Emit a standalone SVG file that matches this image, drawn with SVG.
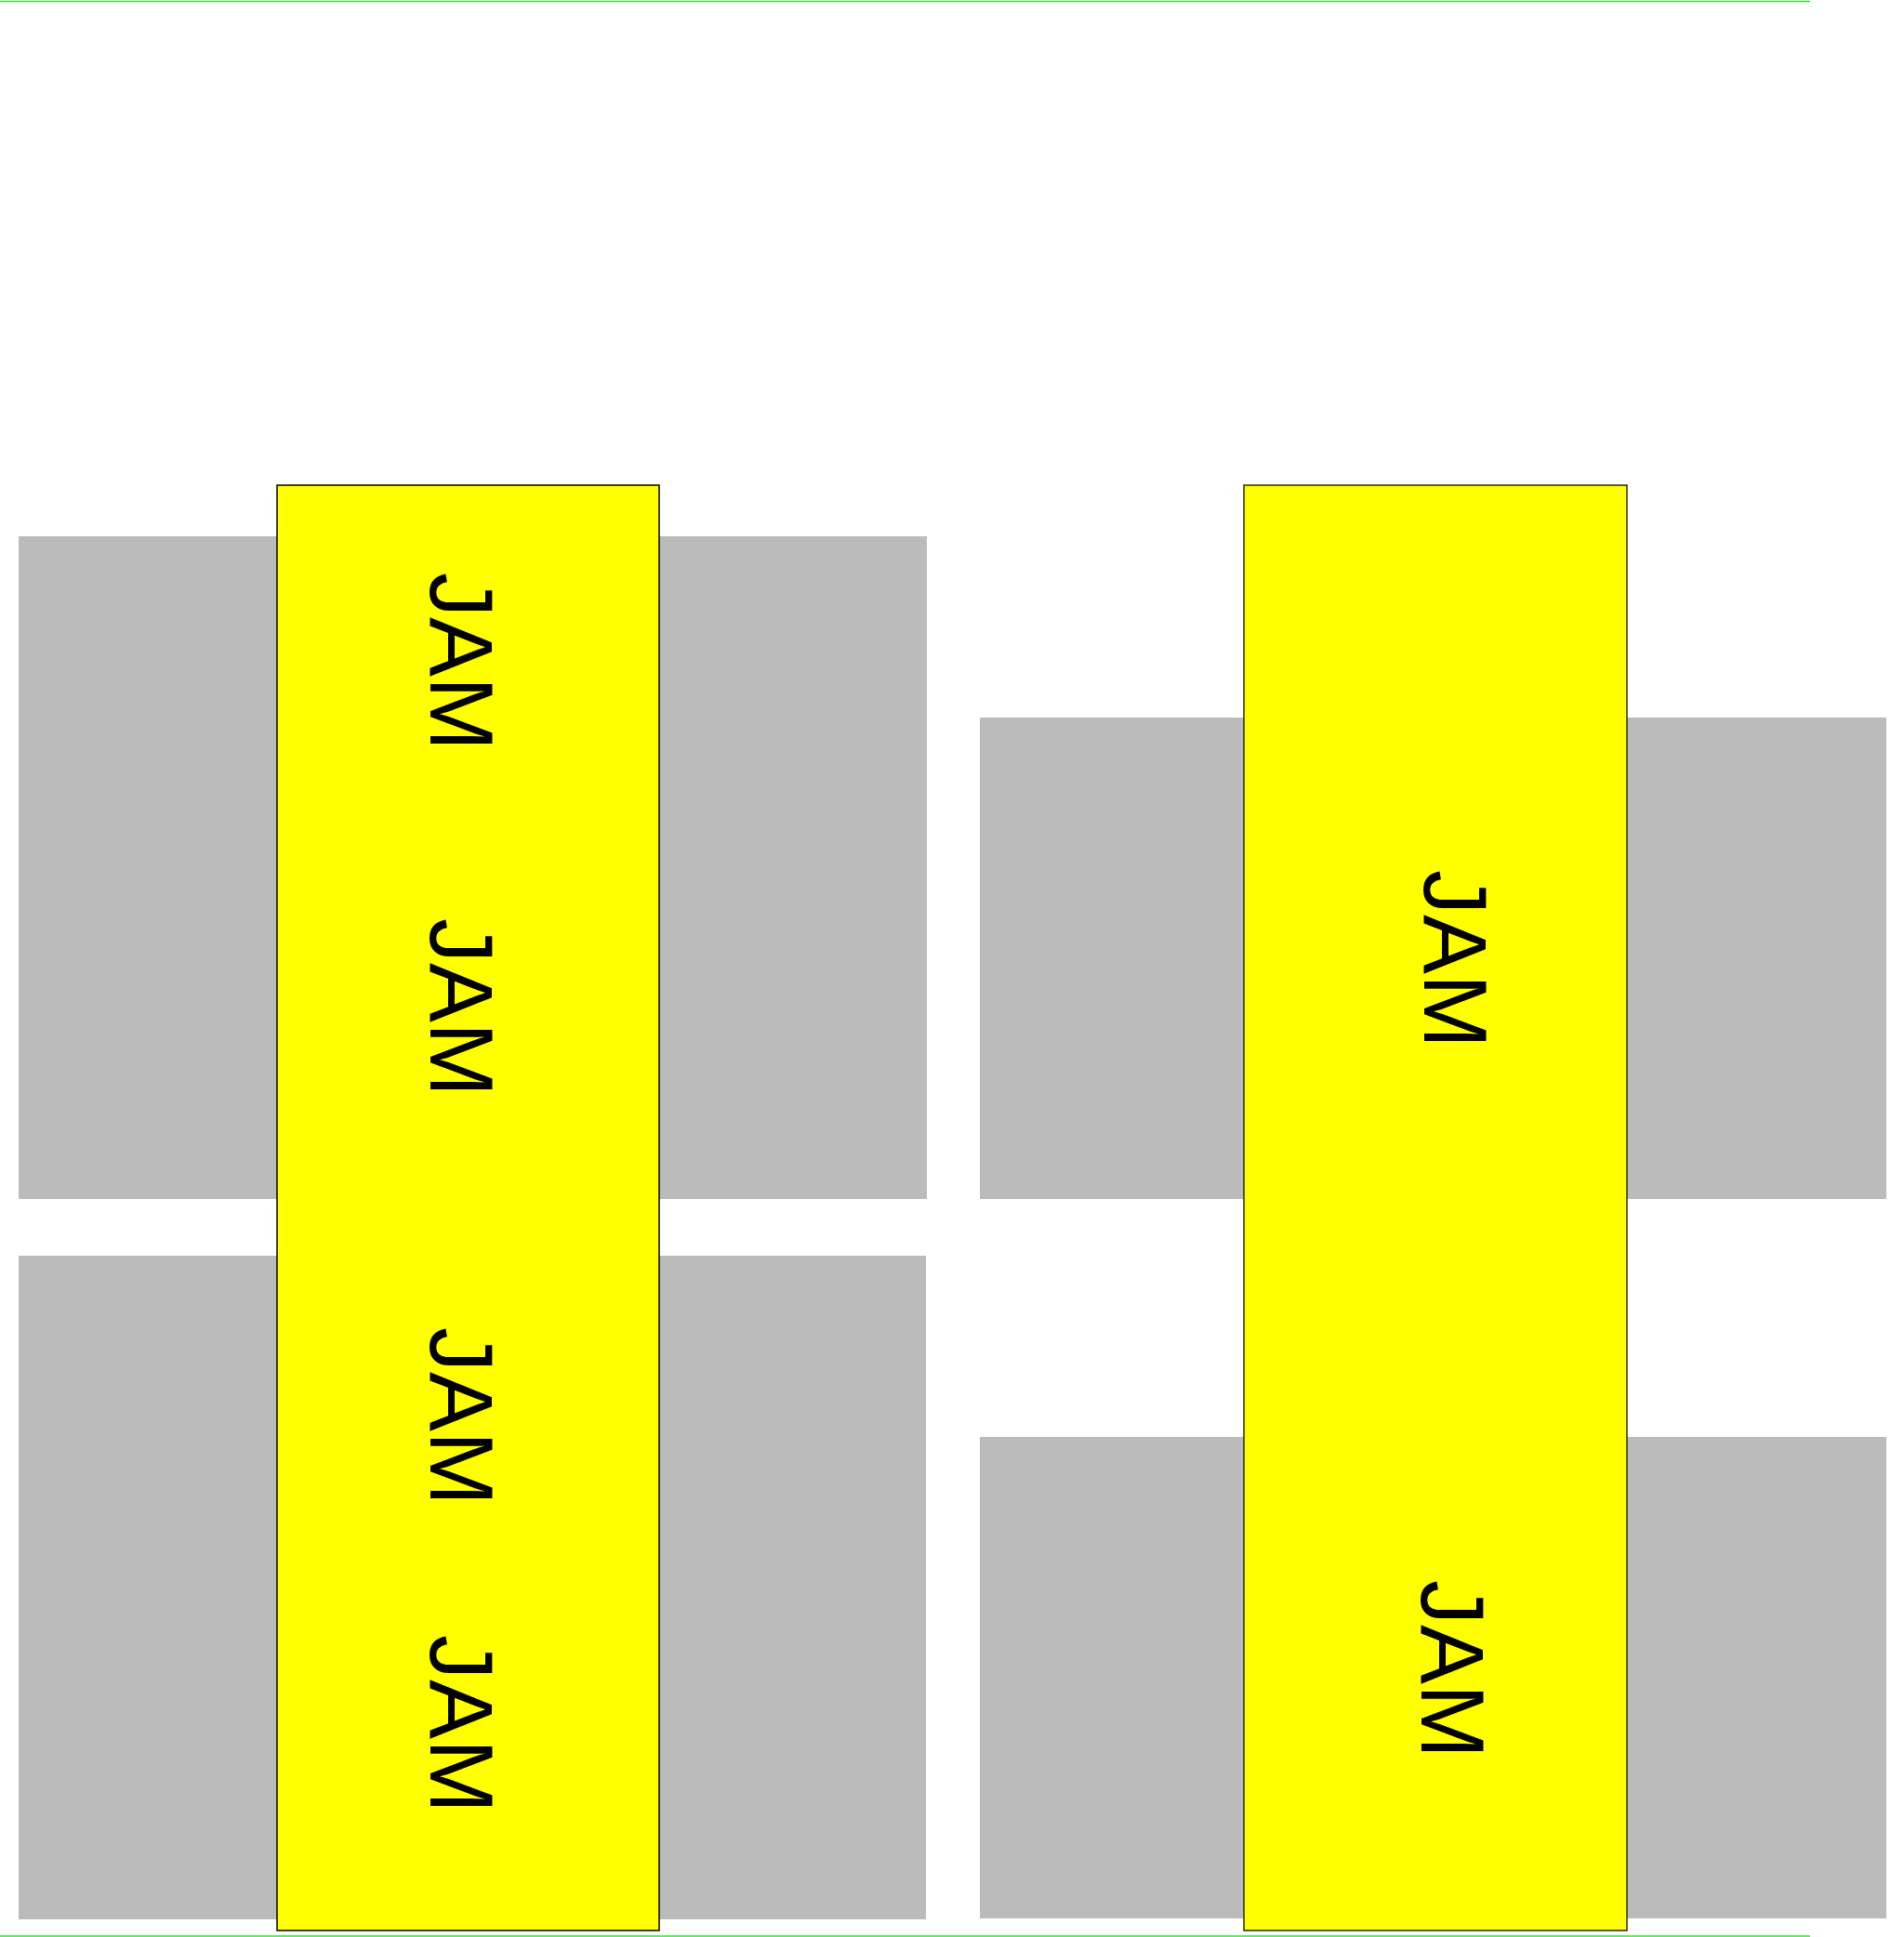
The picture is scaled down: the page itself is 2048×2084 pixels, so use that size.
<svg xmlns="http://www.w3.org/2000/svg" width="2048" height="2084" viewBox="0 0 2048 2084">
<style>
.pad{fill:#bbbbbb;}
.col{fill:#ffff00;stroke:#000;stroke-width:1.5;}
.col2{fill:#ffff00;stroke:#2a2a10;stroke-width:1.5;}
.lbl{font-family:"Liberation Sans",Arial,sans-serif;font-size:96px;fill:#000;text-anchor:middle;}
.rule{stroke:#33dd33;stroke-width:1.5;fill:none;}
</style>
<rect width="2048" height="2084" fill="#fff"/>
<g id="rules">
<line class="rule" x1="0" y1="1.5" x2="1947" y2="1.5"/>
<line class="rule" x1="0" y1="2083" x2="1947" y2="2083"/>
</g>
<g id="pads">
<rect id="pad-l-top" class="pad" x="20" y="577" width="977" height="713"/>
<rect id="pad-l-bottom" class="pad" x="20" y="1351" width="976" height="714"/>
<rect id="pad-r-top" class="pad" x="1054" y="772" width="975" height="518"/>
<rect id="pad-r-bottom" class="pad" x="1054" y="1546" width="975" height="518"/>
</g>
<g id="column-left">
<rect class="col" x="298" y="522" width="411" height="1555"/>
<text class="lbl" transform="translate(463,712) rotate(90)">JAM</text>
<text class="lbl" transform="translate(463,1084) rotate(90)">JAM</text>
<text class="lbl" transform="translate(463,1524) rotate(90)">JAM</text>
<text class="lbl" transform="translate(463,1855) rotate(90)">JAM</text>
</g>
<g id="column-right">
<rect class="col2" x="1338" y="522" width="412" height="1555"/>
<text class="lbl" transform="translate(1532,1032) rotate(90)">JAM</text>
<text class="lbl" transform="translate(1529,1796) rotate(90)">JAM</text>
</g>
<g id="connectors"></g>
</svg>
